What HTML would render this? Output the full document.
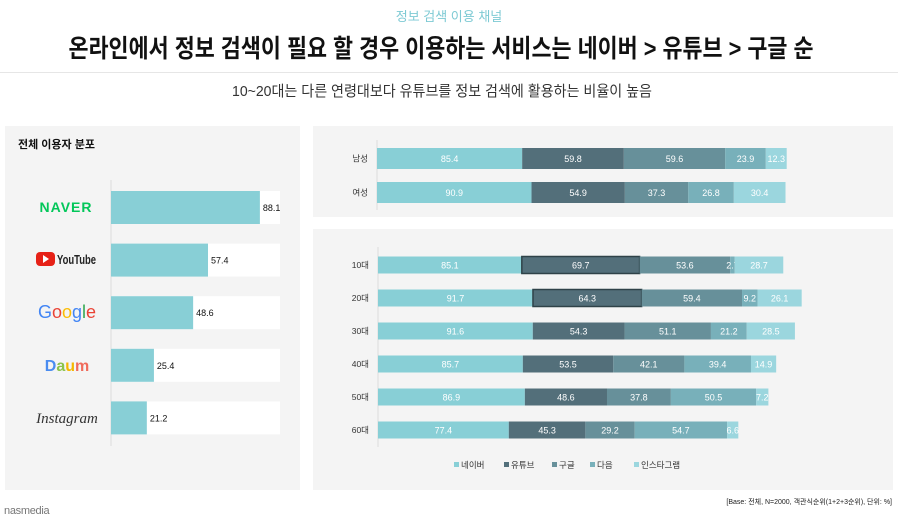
<!DOCTYPE html>
<html><head><meta charset="utf-8"><style>
html,body{margin:0;padding:0;background:#fff;}
svg{display:block;font-family:"Liberation Sans","Noto Sans CJK KR",sans-serif;}
</style></head><body>
<svg id="c" width="898" height="522" viewBox="0 0 898 522" xmlns="http://www.w3.org/2000/svg">
<text x="449" y="21" text-anchor="middle" font-size="13" fill="#7ecad4">정보 검색 이용 채널</text>
<text x="441" y="57" text-anchor="middle" font-size="25" font-weight="bold" fill="#111" textLength="745" lengthAdjust="spacingAndGlyphs">온라인에서 정보 검색이 필요 할 경우 이용하는 서비스는 네이버 &gt; 유튜브 &gt; 구글 순</text>
<line x1="0" y1="72.5" x2="898" y2="72.5" stroke="#e6e6e6"/>
<text x="442" y="96" text-anchor="middle" font-size="15" fill="#333" textLength="420" lengthAdjust="spacingAndGlyphs">10~20대는 다른 연령대보다 유튜브를 정보 검색에 활용하는 비율이 높음</text>
<rect x="5" y="126" width="295" height="364" fill="#f4f4f4"/>
<rect x="313" y="126" width="580" height="91" fill="#f4f4f4"/>
<rect x="313" y="229" width="580" height="261" fill="#f4f4f4"/>
<text x="18" y="148" font-size="11" font-weight="bold" fill="#111">전체 이용자 분포</text>
<line x1="111" y1="180" x2="111" y2="446" stroke="#dcdcdc"/>
<line x1="377" y1="140" x2="377" y2="210" stroke="#dcdcdc"/>
<line x1="378" y1="247" x2="378" y2="447" stroke="#dcdcdc"/>
<g id="left"></g>
<g id="logos">
<text x="66" y="212" text-anchor="middle" font-size="14" font-weight="bold" fill="#03c75a" letter-spacing="1">NAVER</text>
<g><rect x="36" y="252" width="19" height="14" rx="4" fill="#e62117"/><polygon points="43,255 43,263 49,259" fill="#fff"/><text x="57" y="264" font-size="13" font-weight="bold" fill="#222" textLength="39" lengthAdjust="spacingAndGlyphs">YouTube</text></g>
<text x="67" y="318" text-anchor="middle" font-size="18" fill="#4285f4">G<tspan fill="#ea4335">o</tspan><tspan fill="#fbbc05">o</tspan><tspan fill="#4285f4">g</tspan><tspan fill="#34a853">l</tspan><tspan fill="#ea4335">e</tspan></text>
<text x="67" y="371" text-anchor="middle" font-size="16" font-weight="bold" fill="#4a8cf0">D<tspan fill="#8bc34a">a</tspan><tspan fill="#f5b700">u</tspan><tspan fill="#f06b5b">m</tspan></text>
<text x="67" y="423" text-anchor="middle" font-size="15" font-style="italic" font-family="Liberation Serif,serif" fill="#333">Instagram</text>
</g>
<g id="right"></g>
<g id="legend"></g>
<text x="892" y="504" text-anchor="end" font-size="7" fill="#222">[Base: 전체, N=2000, 객관식순위(1+2+3순위), 단위: %]</text>
<text x="4" y="514" font-size="11" fill="#777" letter-spacing="-0.3">nasmedia</text>
</svg>
<script>
const services = ["NAVER","YouTube","Google","Daum","Instagram"];
const overall = [88.1, 57.4, 48.6, 25.4, 21.2];
const seriesNames = ["네이버","유튜브","구글","다음","인스타그램"];
const genderCats = ["남성","여성"];
const genderNaver = [85.4, 90.9];
const genderYoutube = [59.8, 54.9];
const genderGoogle = [59.6, 37.3];
const genderDaum = [23.9, 26.8];
const genderInsta = [12.3, 30.4];
const ageCats = ["10대","20대","30대","40대","50대","60대"];
const ageNaver = [85.1, 91.7, 91.6, 85.7, 86.9, 77.4];
const ageYoutube = [69.7, 64.3, 54.3, 53.5, 48.6, 45.3];
const ageGoogle = [53.6, 59.4, 51.1, 42.1, 37.8, 29.2];
const ageDaum = [2.7, 9.2, 21.2, 39.4, 50.5, 54.7];
const ageInsta = [28.7, 26.1, 28.5, 14.9, 7.2, 6.6];
const highlightAges = ["10대","20대"];

const NS = "http://www.w3.org/2000/svg";
const colors = ["#88cfd6","#536f7a","#67909a","#78b0ba","#9bd6de"];
function mk(tag, attrs, parent){const e=document.createElementNS(NS,tag);for(const k in attrs)e.setAttribute(k,attrs[k]);parent.appendChild(e);return e;}

const L = document.getElementById('left');
const lx = v => 111 + v * 1.69;
const ly = i => 191 + i * 52.6;
services.forEach((s,i)=>{
  const bg = mk('rect',{x:111,y:ly(i),width:169,height:33,fill:'#fff'},L);
  
  
  const b = mk('rect',{x:111,y:ly(i),width:lx(overall[i])-111,height:33,fill:'#88cfd6'},L);
  
  
  const t = mk('text',{x:lx(overall[i])+3,y:ly(i)+20,'font-size':9,fill:'#111'},L);
  t.textContent = overall[i].toFixed(1);
  
  
});

const R = document.getElementById('right');
function stacked(cats, series, x0, scale, yFn, h, prefix){
  cats.forEach((c,i)=>{
    const lab = mk('text',{x:x0-9,y:yFn(i)+h/2+3,'text-anchor':'end','font-size':8.5,fill:'#333'},R);
    lab.textContent = c;
    
    
    let x = x0;
    series.forEach((arr,k)=>{
      const w = arr[i]*scale;
      const hl = k===1 && highlightAges.includes(c);
      const r = mk('rect',{x:x,y:yFn(i),width:w,height:h,fill:colors[k]},R);
      if(hl){r.setAttribute('stroke','#2f4248');r.setAttribute('stroke-width','1.5');}
      
      
      const t = mk('text',{x:x+w/2,y:yFn(i)+h/2+3.5,'text-anchor':'middle','font-size':9,fill:'#fff'},R);
      t.textContent = arr[i].toFixed(1);
      
      
      x += w;
    });
  });
}
stacked(genderCats,[genderNaver,genderYoutube,genderGoogle,genderDaum,genderInsta],377,1.70,i=>148+i*34,21,'gender');
stacked(ageCats,[ageNaver,ageYoutube,ageGoogle,ageDaum,ageInsta],378,1.69,i=>256.5+i*33,17,'age');

const G = document.getElementById('legend');
const lxs = [462,512,560,598,642];
seriesNames.forEach((n,k)=>{
  const r = mk('rect',{x:lxs[k]-8,y:462,width:5,height:5,fill:colors[k]},G);
  
  
  const t = mk('text',{x:lxs[k]-1,y:468,'font-size':8.5,fill:'#333'},G);
  t.textContent = n;
  
  
});
</script>
</body></html>
